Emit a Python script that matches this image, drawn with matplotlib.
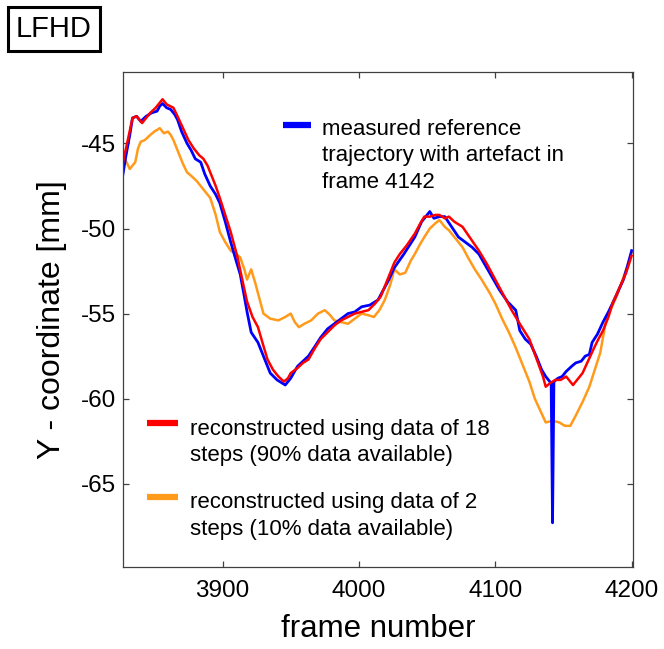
import numpy as np
import matplotlib
matplotlib.use("Agg")
import matplotlib.pyplot as plt

plt.rcParams.update({
    "font.family": ["Liberation Sans", "DejaVu Sans"],
    "axes.unicode_minus": False,
})

# measured reference trajectory (with artefact in frame 4142)
meas_frame = [3827, 3829, 3832, 3834, 3837, 3840, 3844, 3848, 3852, 3854, 3856, 3859,
              3862, 3865, 3867, 3870, 3874, 3877, 3880, 3884, 3887, 3891, 3895, 3898,
              3902, 3906, 3910, 3913, 3916, 3918, 3921, 3926, 3930, 3935, 3940, 3946,
              3950, 3955, 3959, 3963, 3968, 3972, 3977, 3982, 3987, 3992, 3997, 4002,
              4008, 4014, 4018, 4022, 4026, 4033, 4041, 4046, 4050, 4052, 4055, 4059,
              4063, 4068, 4073, 4078, 4083, 4088, 4093, 4098, 4103, 4109, 4115, 4118,
              4122, 4126, 4130, 4134, 4137, 4140, 4141, 4142, 4143, 4146, 4149, 4152,
              4156, 4159, 4163, 4166, 4169, 4171, 4175, 4179, 4183, 4186, 4190, 4194,
              4197, 4200]
meas_y = [-46.8, -45.8, -44.5, -43.5, -43.4, -43.7, -43.4, -43.2, -43.1, -42.8, -42.65, -42.9,
          -43.0, -43.3, -43.6, -44.3, -45.0, -45.4, -45.9, -46.1, -46.8, -47.5, -48.0, -48.5,
          -49.6, -50.8, -51.9, -52.7, -54.0, -54.9, -56.1, -56.7, -57.5, -58.5, -58.9, -59.2,
          -58.8, -58.1, -57.8, -57.5, -56.9, -56.4, -55.9, -55.6, -55.3, -55.0, -54.9, -54.6,
          -54.5, -54.2, -53.6, -53.0, -52.3, -51.5, -50.5, -49.6, -49.2, -49.0, -49.4, -49.3,
          -49.3, -49.9, -50.5, -50.8, -51.1, -51.5, -52.2, -52.9, -53.6, -54.3, -54.8, -56.0,
          -56.5, -56.8, -57.5, -58.3, -58.7, -59.0, -59.1, -67.3, -59.0, -58.8, -58.7, -58.4,
          -58.1, -57.9, -57.8, -57.5, -57.4, -56.7, -56.2, -55.5, -54.9, -54.4, -53.7, -53.0,
          -52.2, -51.3]

# reconstructed from 18 steps (90% data available)
rec18_frame = [3827, 3830, 3834, 3837, 3841, 3844, 3847, 3851, 3854, 3856, 3859, 3864,
               3867, 3871, 3875, 3879, 3883, 3886, 3889, 3892, 3895, 3898, 3902, 3906,
               3911, 3915, 3918, 3922, 3926, 3930, 3933, 3937, 3941, 3945, 3948, 3950,
               3955, 3959, 3963, 3968, 3972, 3977, 3982, 3987, 3992, 3997, 4002, 4007,
               4012, 4016, 4021, 4026, 4030, 4035, 4041, 4045, 4048, 4052, 4056, 4059,
               4063, 4066, 4070, 4076, 4082, 4088, 4094, 4100, 4106, 4112, 4118, 4125,
               4130, 4135, 4137, 4140, 4144, 4148, 4152, 4155, 4157, 4160, 4164, 4168,
               4172, 4175, 4179, 4183, 4186, 4191, 4196, 4200]
rec18_y = [-46.1, -45.0, -43.5, -43.4, -43.8, -43.5, -43.2, -42.9, -42.6, -42.4, -42.7, -42.9,
           -43.4, -44.1, -44.8, -45.3, -45.7, -45.9, -46.3, -46.9, -47.5, -48.2, -49.2, -50.2,
           -51.7, -53.2, -54.3, -55.2, -55.8, -56.9, -57.7, -58.3, -58.7, -59.0, -58.8, -58.5,
           -58.2, -57.9, -57.7, -57.0, -56.5, -56.1, -55.7, -55.4, -55.2, -55.0, -54.9, -54.8,
           -54.4, -54.0, -53.0, -52.0, -51.5, -51.0, -50.3, -49.7, -49.3, -49.3, -49.2, -49.2,
           -49.4, -49.3, -49.6, -49.9, -50.6, -51.3, -52.1, -53.0, -53.9, -54.8, -55.6, -56.5,
           -57.6, -58.7, -59.3, -59.1, -58.9, -58.9, -58.7, -59.0, -59.2, -58.9, -58.5, -57.8,
           -57.1, -56.6, -56.0, -55.2, -54.4, -53.5, -52.6, -51.6]

# reconstructed from 2 steps (10% data available)
rec2_frame = [3827, 3829, 3832, 3834, 3836, 3838, 3840, 3843, 3847, 3850, 3854, 3857,
              3860, 3862, 3864, 3868, 3871, 3874, 3877, 3881, 3884, 3887, 3891, 3895,
              3898, 3902, 3906, 3910, 3913, 3916, 3918, 3920, 3921, 3924, 3926, 3930,
              3935, 3941, 3946, 3950, 3953, 3956, 3960, 3965, 3970, 3975, 3979, 3982,
              3987, 3992, 3997, 4002, 4007, 4011, 4015, 4019, 4023, 4026, 4030, 4034,
              4038, 4041, 4045, 4048, 4052, 4056, 4059, 4063, 4066, 4070, 4076, 4080,
              4085, 4090, 4096, 4100, 4105, 4110, 4115, 4120, 4125, 4129, 4133, 4137,
              4142, 4147, 4151, 4155, 4159, 4164, 4169, 4173, 4177, 4181, 4185, 4189,
              4193, 4196, 4200]
rec2_y = [-45.5, -46.0, -46.5, -46.3, -46.1, -45.3, -44.9, -44.8, -44.5, -44.3, -44.1, -44.4,
          -44.3, -44.5, -44.8, -45.6, -46.2, -46.7, -46.9, -47.2, -47.5, -47.8, -48.2, -49.2,
          -50.2, -50.8, -51.3, -51.5, -51.7, -52.4, -53.0, -52.6, -52.4, -53.2, -53.8, -55.0,
          -55.3, -55.4, -55.2, -55.0, -55.5, -55.8, -55.6, -55.4, -55.0, -54.8, -55.1, -55.4,
          -55.5, -55.6, -55.3, -55.0, -55.1, -55.2, -54.8, -54.2, -53.3, -52.4, -52.7, -52.6,
          -51.9, -51.5, -50.9, -50.5, -50.0, -49.7, -49.5, -49.9, -50.1, -50.5, -51.1, -51.7,
          -52.4, -53.0, -53.8, -54.4, -55.3, -56.1, -57.0, -58.0, -59.0, -60.0, -60.7, -61.4,
          -61.3, -61.4, -61.6, -61.6, -61.0, -60.2, -59.3, -58.3, -57.3, -55.5, -54.7, -54.0,
          -53.1, -52.4, -51.4]

X_TICKS = [3900, 4000, 4100, 4200]
Y_TICKS = [-65, -60, -55, -50, -45]

BLUE = "#0000ff"
RED = "#ff0000"
ORANGE = "#ff9a1a"

fig = plt.figure(figsize=(6.64, 6.49), dpi=100)
ax = fig.add_axes([0.1852, 0.1263, 0.7681, 0.7627])

ax.plot(rec2_frame, rec2_y, color=ORANGE, lw=1.8)
ax.plot(meas_frame, meas_y, color=BLUE, lw=2.0)
ax.plot(rec18_frame, rec18_y, color=RED, lw=1.8)

ax.set_xlim(3827, 4201)
ax.set_ylim(-69.9, -40.8)
ax.set_xticks(X_TICKS)
ax.set_yticks(Y_TICKS)
ax.tick_params(direction="in", length=4, width=0.9, top=True, right=True,
               labelsize=17.5, color="#404040")
ax.tick_params(axis="x", pad=9)
ax.tick_params(axis="y", pad=5)
for sp in ax.spines.values():
    sp.set_color("#404040")
    sp.set_linewidth(0.9)

ax.set_xlabel("frame number", fontsize=22.5, labelpad=9)
ax.set_ylabel("Y - coordinate [mm]", fontsize=23, labelpad=10)

# in-plot legend: handle lines + text blocks
leg_fs = 16
ax.plot([0.314, 0.369], [0.893, 0.893], color=BLUE, lw=4.5, transform=ax.transAxes,
        solid_capstyle="butt")
ax.text(0.39, 0.831, "measured reference\ntrajectory with artefact in\nframe 4142",
        transform=ax.transAxes, fontsize=leg_fs, va="center", ha="left", linespacing=1.34)
ax.plot([0.047, 0.108], [0.291, 0.291], color=RED, lw=4.5, transform=ax.transAxes,
        solid_capstyle="butt")
ax.text(0.131, 0.2515, "reconstructed using data of 18\nsteps (90% data available)",
        transform=ax.transAxes, fontsize=leg_fs, va="center", ha="left", linespacing=1.34)
ax.plot([0.047, 0.108], [0.141, 0.141], color=ORANGE, lw=4.5, transform=ax.transAxes,
        solid_capstyle="butt")
ax.text(0.131, 0.103, "reconstructed using data of 2\nsteps (10% data available)",
        transform=ax.transAxes, fontsize=leg_fs, va="center", ha="left", linespacing=1.34)

fig.text(0.0813, 0.955, "LFHD", fontsize=21, ha="center", va="center",
         bbox=dict(boxstyle="square,pad=0.28", facecolor="white", edgecolor="black", lw=2.2))

fig.savefig("out.png", dpi=100)
